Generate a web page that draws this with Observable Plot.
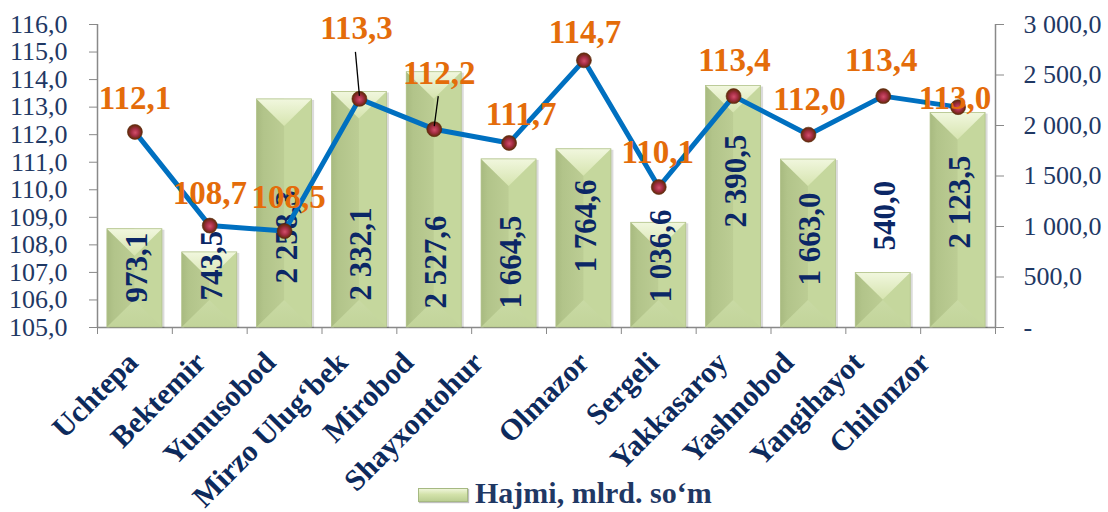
<!DOCTYPE html>
<html><head><meta charset="utf-8">
<script src="https://cdn.jsdelivr.net/npm/d3@7"></script>
<script src="https://cdn.jsdelivr.net/npm/@observablehq/plot@0.6"></script>
<style>
body{margin:0;background:#fff;font-family:"Liberation Serif","Times New Roman",serif;}
#wrap{position:relative;width:1108px;height:512px;overflow:hidden;}
#chart svg, #chart svg text{font-family:"Liberation Serif","Times New Roman",serif !important;}
#legend{position:absolute;left:0;top:474px;width:1108px;height:38px;}
#legend .sw{position:absolute;left:418px;top:14px;width:48px;height:12px;border:1px solid #a6b982;
  background:linear-gradient(#eef5d8,#d3e2aa 45%,#bccf93 100%);box-shadow:1px 1px 1px rgba(0,0,0,0.25);}
#legend .lt{position:absolute;left:475px;top:4px;line-height:30px;font-size:30px;font-weight:bold;color:#1F3864;white-space:nowrap;}
</style></head>
<body><div id="wrap"><div id="chart"></div><div id="legend"><div class="sw"></div><div class="lt" id="lt"></div></div></div>
<script>
// ---- data ----
const districts = ["Uchtepa","Bektemir","Yunusobod","Mirzo Ulug‘bek","Mirobod","Shayxontohur","Olmazor","Sergeli","Yakkasaroy","Yashnobod","Yangihayot","Chilonzor"];
const volume = [973.1, 743.5, 2258.3, 2332.1, 2527.6, 1664.5, 1764.6, 1036.6, 2390.5, 1663.0, 540.0, 2123.5];
const growth = [112.1, 108.7, 108.5, 113.3, 112.2, 111.7, 114.7, 110.1, 113.4, 112.0, 113.4, 113.0];
const leftTicks = [105,106,107,108,109,110,111,112,113,114,115,116];
const rightTicks = [0,500,1000,1500,2000,2500,3000];
const legendLabel = "Hajmi, mlrd. so‘m";

// ---- layout nudges (pixels) ----
const growthLabelNudge = [[0,-33],[0,-32],[4,-34],[-3,-70],[5,-56],[12,-29],[1,-28],[-1,-35],[1,-36],[1,-35],[-2,-36],[-3,-9]];
const leaderIdx = [3,4];
const volumeLabelLift = [25,27,44,27,19,19,55,25,100,42,77,79];
const categoryShift = [-2,-9,-14,-17,-26,-31,0,-5,-11,-20,-25,-33];

// ---- geometry ----
const W = 1108, H = 474, mL = 97, mR = 113, mT = 24, mB = 147;
const pxY = 11 / (H - mT - mB);
const pxX = 12 / (W - mL - mR);
const toLeft = v => 105 + v * 11 / 3000;
const fromLeft = y => Math.round((y - 105) * 3000 / 11);
const loc = d3.formatLocale({decimal: ",", thousands: " ", grouping: [3]});
const fmt1 = loc.format(",.1f");
const half = 0.3675;
const navy = "#1F3864";
const grey = "#898989";
const FONT = "Liberation Serif, Times New Roman, serif";

const rows = districts.map((name, i) => ({name, i, c: i + 0.5, vol: volume[i], g: growth[i], top: toLeft(volume[i])}));
const bevel = d => Math.min(27 * pxY, (d.top - 105) / 2);
const topTri = rows.flatMap(d => [
  {id: d.i, x: d.c - half, y1: d.top, y2: d.top},
  {id: d.i, x: d.c, y1: d.top, y2: d.top - bevel(d)},
  {id: d.i, x: d.c + half, y1: d.top, y2: d.top}]);
const botTri = rows.flatMap(d => [
  {id: d.i, x: d.c - half, y1: 105, y2: 105},
  {id: d.i, x: d.c, y1: 105, y2: 105 + bevel(d)},
  {id: d.i, x: d.c + half, y1: 105, y2: 105}]);
const labelPos = rows.map(d => ({...d,
  lx: d.c + growthLabelNudge[d.i][0] * pxX,
  ly: d.g - growthLabelNudge[d.i][1] * pxY}));
const leaders = leaderIdx.map(i => ({
  x1: rows[i].c, y1: rows[i].g + 3 * pxY,
  x2: labelPos[i].lx - 1 * pxX, y2: labelPos[i].ly - 23 * pxY}));

const svg = Plot.plot({
  width: W, height: H,
  marginLeft: mL, marginRight: mR, marginTop: mT, marginBottom: mB,
  style: {fontFamily: FONT, background: "white", overflow: "visible"},
  x: {type: "linear", domain: [0, 12], label: null},
  y: {domain: [105, 116], label: null},
  marks: [
    // axes
    Plot.axisY(leftTicks, {anchor: "left", tickSize: 8, tickPadding: 22, stroke: grey, fill: navy,
      fontSize: 26, fontFamily: FONT, tickFormat: d => fmt1(d), label: null}),
    Plot.axisY(rightTicks.map(toLeft), {anchor: "right", tickSize: 8, tickPadding: 20, stroke: grey, fill: navy,
      fontSize: 26, fontFamily: FONT, textAnchor: "start", tickFormat: d => fromLeft(d) === 0 ? "-" : fmt1(fromLeft(d)), label: null}),
    Plot.axisX(d3.range(0, 13), {anchor: "bottom", tickSize: 7, stroke: grey, tickFormat: () => "", label: null}),
    Plot.ruleX([0, 12], {stroke: grey, strokeWidth: 1.5}),
    Plot.ruleY([105], {stroke: grey, strokeWidth: 1.5}),
    // bars
    Plot.rect(rows, {x1: d => d.c - half, x2: d => d.c + half, y1: 105, y2: "top", fill: "#000", fillOpacity: 0.14, dx: 2.5, dy: 1}),
    Plot.rect(rows, {x1: d => d.c - half, x2: d => d.c + half, y1: 105, y2: "top", fill: "#c5d79d"}),
    Plot.rect(rows, {x1: d => d.c - half, x2: "c", y1: 105, y2: "top", fill: "url(#gLeft)"}),
    Plot.areaY(botTri, {x: "x", y1: "y1", y2: "y2", z: "id", fill: "url(#gBot)", curve: "linear"}),
    Plot.areaY(topTri, {x: "x", y1: "y1", y2: "y2", z: "id", fill: "url(#gTop)", curve: "linear"}),
    Plot.rect(rows, {x1: d => d.c - half, x2: d => d.c + half, y1: 105, y2: "top", fill: "none", stroke: "#b3c48d", strokeWidth: 0.8}),
    // bar value labels
    Plot.text(rows, {x: "c", y: d => 105 + volumeLabelLift[d.i] * pxY, text: d => fmt1(d.vol), rotate: -90,
      textAnchor: "start", fill: "#0B2766", fontSize: 31, fontWeight: "bold", fontFamily: FONT, dx: 2}),
    // growth line
    Plot.line(rows, {x: "c", y: "g", stroke: "#0070C0", strokeWidth: 5, strokeLinejoin: "round"}),
    Plot.dot(rows, {x: "c", y: "g", r: 7.5, fill: "url(#gBall)", stroke: "#5b2a0a", strokeWidth: 0.6}),
    Plot.link(leaders, {x1: "x1", y1: "y1", x2: "x2", y2: "y2", stroke: "#000", strokeWidth: 1.3}),
    Plot.text(labelPos, {x: "lx", y: "ly", text: d => fmt1(d.g), fill: "#E46C0A", fontSize: 33, fontWeight: "bold", fontFamily: FONT}),
    // category labels
    Plot.text(rows, {x: d => d.c + categoryShift[d.i] * pxX, y: 105, text: "name", rotate: -45, textAnchor: "end",
      dy: 30, fill: "#0D2A5C", fontSize: 30, fontWeight: "bold", fontFamily: FONT})
  ]
});

d3.select(svg).selectAll("text").attr("font-family", FONT).style("font-family", FONT);
d3.select(svg).insert("defs", ":first-child").html(`
  <linearGradient id="gTop" x1="0" y1="0" x2="0" y2="1">
    <stop offset="0" stop-color="#f1f7de"/><stop offset="1" stop-color="#d6e4af"/></linearGradient>
  <linearGradient id="gBot" x1="0" y1="0" x2="0" y2="1">
    <stop offset="0" stop-color="#c9daa4"/><stop offset="1" stop-color="#c2d49a"/></linearGradient>
  <linearGradient id="gLeft" x1="0" y1="0" x2="1" y2="0">
    <stop offset="0" stop-color="#a8ba80"/><stop offset="0.25" stop-color="#b2c48a"/><stop offset="1" stop-color="#bccd94"/></linearGradient>
  <radialGradient id="gBall" cx="0.5" cy="0.5" r="0.55" fx="0.52" fy="0.55">
    <stop offset="0" stop-color="#d2506a"/><stop offset="0.45" stop-color="#a42d44"/>
    <stop offset="0.8" stop-color="#6e2a14"/><stop offset="1" stop-color="#5a3008"/></radialGradient>
`);
document.getElementById("chart").appendChild(svg);
document.getElementById("lt").textContent = legendLabel;
</script>
</body></html>
